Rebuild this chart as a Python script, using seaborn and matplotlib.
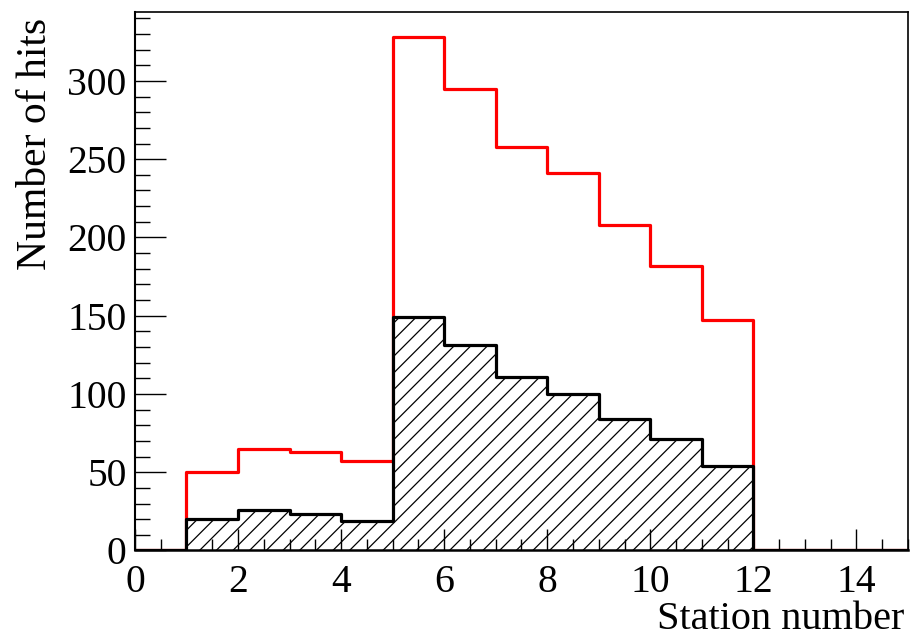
import numpy as np
import pandas as pd
import matplotlib
matplotlib.use("Agg")
import matplotlib.pyplot as plt
import seaborn as sns
from matplotlib.ticker import MultipleLocator

# Hits per station (bins of width 1 from 0 to 15)
bin_edges = list(range(0, 16))
stations = [0.5 + i for i in range(15)]
all_hits = [0, 50, 65, 63, 57, 328, 295, 258, 241, 208, 182, 147, 0, 0, 0]
selected_hits = [0, 20, 26, 23, 19, 149, 131, 111, 100, 84, 71, 54, 0, 0, 0]

df = pd.DataFrame({"station": stations, "all": all_hits, "selected": selected_hits})

sns.set_theme(style="white")
plt.rcParams["font.family"] = ["Liberation Serif", "DejaVu Serif"]
plt.rcParams["hatch.linewidth"] = 0.9
plt.rcParams["hatch.color"] = "black"

fig = plt.figure(figsize=(9.15, 6.37), dpi=100)
ax = fig.add_axes([0.1475, 0.1358, 0.8448, 0.8453])

# All hits: red outline
sns.histplot(data=df, x="station", weights="all", bins=bin_edges,
             element="step", fill=False, color="red", linewidth=2.3,
             ax=ax, zorder=2)

# Selected hits: hatched area with black outline
sns.histplot(data=df, x="station", weights="selected", bins=bin_edges,
             element="step", fill=True, facecolor="white", edgecolor="black",
             linewidth=0, alpha=1, ax=ax, zorder=3)
for coll in ax.collections:
    coll.set_hatch("//")
    coll.set_edgecolor("black")
    coll.set_linewidth(0)
sns.histplot(data=df, x="station", weights="selected", bins=bin_edges,
             element="step", fill=False, color="black", linewidth=2.3,
             ax=ax, zorder=4)

ax.set_xlim(0, 15)
ax.set_ylim(0, 344)

ax.xaxis.set_major_locator(MultipleLocator(2))
ax.xaxis.set_minor_locator(MultipleLocator(0.5))
ax.yaxis.set_major_locator(MultipleLocator(50))
ax.yaxis.set_minor_locator(MultipleLocator(10))

ax.tick_params(axis="both", which="both", direction="in", color="black",
               width=1.0, labelsize=28.5, labelcolor="black",
               top=False, right=False, left=True, bottom=True)
ax.tick_params(axis="x", which="major", length=15, pad=10)
ax.tick_params(axis="x", which="minor", length=8)
ax.tick_params(axis="y", which="major", length=22, pad=6)
ax.tick_params(axis="y", which="minor", length=11)

for side, sp in ax.spines.items():
    sp.set_visible(True)
    sp.set_color("black")
    sp.set_linewidth(1.2)
    sp.set_zorder(6)
ax.spines["bottom"].set_linewidth(1.8)
ax.spines["left"].set_linewidth(1.5)
ax.xaxis.set_zorder(5)
ax.yaxis.set_zorder(5)

ax.set_xlabel("Station number", fontsize=29, loc="right", color="black")
ax.set_ylabel("Number of hits", fontsize=30, loc="top", color="black")
ax.xaxis.set_label_coords(0.996, -0.094)
ax.yaxis.set_label_coords(-0.104, 0.99)

fig.savefig("out.png", dpi=100, facecolor="white")
